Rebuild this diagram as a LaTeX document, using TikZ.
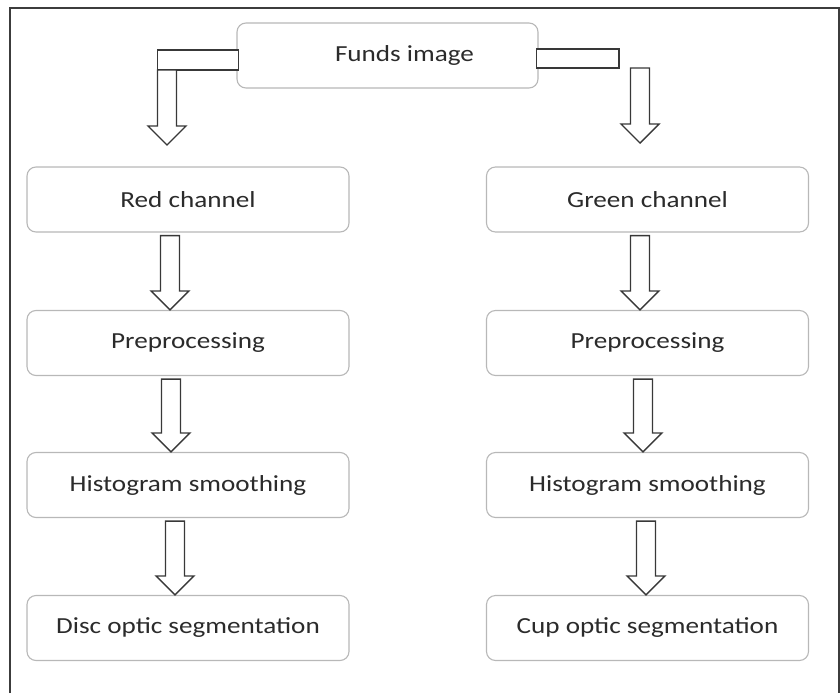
\documentclass[tikz,border=0pt]{standalone}
\usepackage{fontspec}
\setmainfont{Carlito}[FakeStretch=1.18]
\usetikzlibrary{calc}
\definecolor{frameink}{HTML}{3C3C3C}
\definecolor{boxline}{HTML}{B8B8B8}
\definecolor{textink}{HTML}{2B2B2B}
\definecolor{arrowink}{HTML}{383838}

% hollow block arrow, shaft centred on x=#1, from point #2 down to tip #3
\newcommand\blockdown[3]{%
  \draw[hollow] let \p1=#2, \p2=#3 in
    ({#1pt-9.5pt},\y1) -- ({#1pt+9.5pt},\y1) -- ({#1pt+9.5pt},{\y2+19pt})
    -- ({#1pt+19pt},{\y2+19pt}) -- ({#1pt},\y2) -- ({#1pt-19pt},{\y2+19pt})
    -- ({#1pt-9.5pt},{\y2+19pt}) -- cycle;}

\begin{document}
\begin{tikzpicture}[
        x=1pt,y=-1pt,
        stage/.style={draw=boxline,line width=1.1pt,rounded corners=9pt,fill=white,
          minimum width=322pt,minimum height=65pt,text=textink,
          font=\fontsize{23}{26}\selectfont},
        hollow/.style={draw=arrowink,line width=1.4pt,fill=white},
        frame/.style={draw=frameink,line width=2pt}
      ]
        \useasboundingbox (0,0) rectangle (840,693);
        \draw[frame] (10,693) -- (10,8) -- (838.5,8) -- (838.5,693);

        \node[stage,minimum width=301pt] (funds) at (387.5,55.5) {\hspace*{34pt}Funds image};

        % red branch
        \node[stage] (red) at (188,199.5) {Red channel};
        \node[stage] (prered) at (188,343) {Preprocessing};
        \node[stage] (histred) at (188,485) {Histogram smoothing};
        \node[stage] (disc) at (188,628) {Disc optic segmentation};

        % green branch
        \node[stage] (green) at (647.5,199.5) {Green channel};
        \node[stage] (pregreen) at (647.5,343) {Preprocessing};
        \node[stage] (histgreen) at (647.5,485) {Histogram smoothing};
        \node[stage] (cup) at (647.5,628) {Cup optic segmentation};

        % bent arrows out of the fundus image
        \coordinate (redtip) at (167,145);
        \coordinate (greentip) at (640,143);
        \draw[hollow] ($(funds.west)+(2,-5.5)$) rectangle ($(funds.west)+(-79,14.5)$);
        \draw[hollow] ($(funds.east)+(-2,-6.5)$) rectangle ($(funds.east)+(80.5,12.5)$);
        \blockdown{167}{($(funds.west)+(0,14.5)$)}{(redtip)}
        \blockdown{640}{($(funds.east)+(0,12.5)$)}{(greentip)}

        \blockdown{170}{($(red.south)+(0,3)$)}{(prered.north)}
        \blockdown{171}{($(prered.south)+(0,3)$)}{(histred.north)}
        \blockdown{175}{($(histred.south)+(0,3)$)}{(disc.north)}
        \blockdown{640}{($(green.south)+(0,3)$)}{(pregreen.north)}
        \blockdown{643}{($(pregreen.south)+(0,3)$)}{(histgreen.north)}
        \blockdown{646}{($(histgreen.south)+(0,3)$)}{(cup.north)}
      \end{tikzpicture}
\end{document}
